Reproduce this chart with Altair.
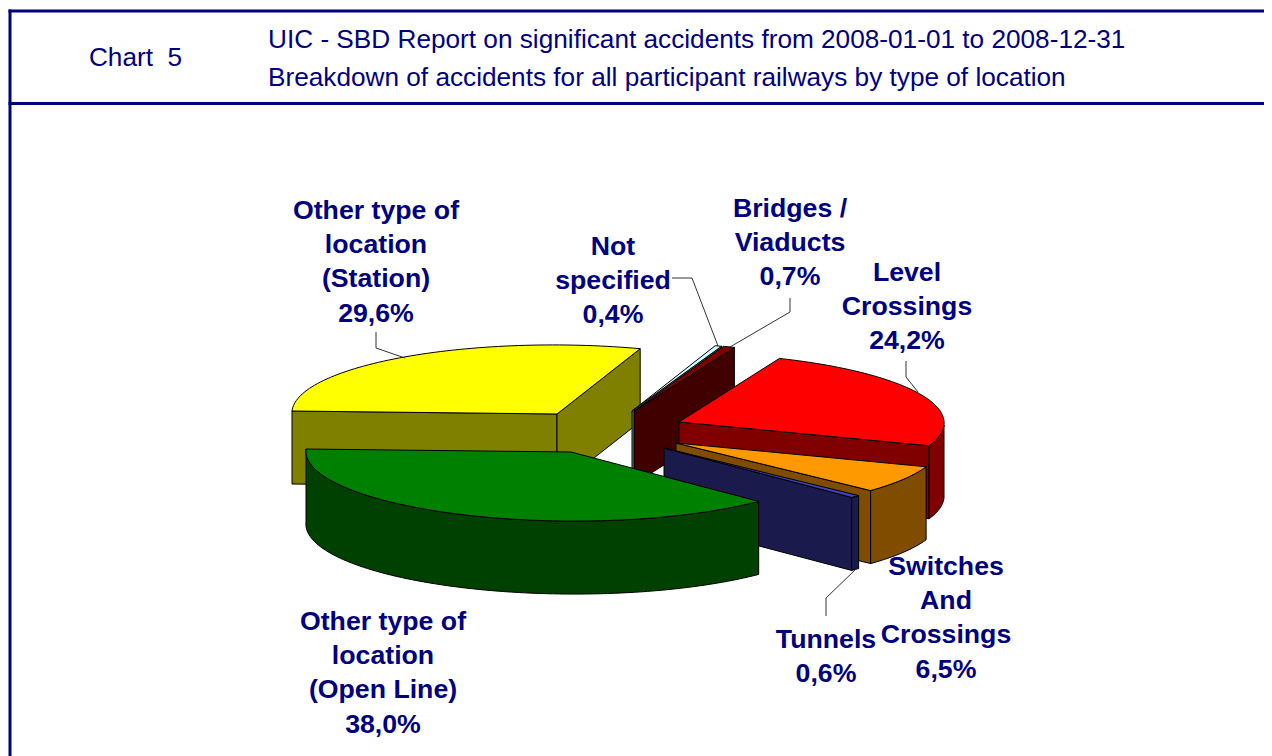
import math
import altair as alt
import pandas as pd

# ---- data ----
SLICE_NAMES = ["Station", "Not specified", "Bridges", "Level Crossings", "Switches", "Tunnels", "Open Line"]
SHARES = [29.6, 0.4, 0.7, 24.2, 6.5, 0.6, 38.0]
TOP_COLORS = ["#FFFF00", "#CCFFFF", "#800000", "#FF0000", "#FF9900", "#3F3FBF", "#008000"]
SIDE_COLORS = ["#808000", "#668080", "#400000", "#800000", "#804C00", "#1A1A4D", "#004000"]
LABEL_LINES = [
    ["Other type of", "location", "(Station)"],
    ["Not", "specified"],
    ["Bridges /", "Viaducts"],
    ["Level", "Crossings"],
    ["Switches", "And", "Crossings"],
    ["Tunnels"],
    ["Other type of", "location", "(Open Line)"],
]
TITLE_LINES = [
    "UIC - SBD Report on significant accidents from 2008-01-01 to 2008-12-31",
    "Breakdown of accidents for all participant railways by type of location",
]
CHART_NO = "Chart \u00a05"

# ---- layout of the exploded 3-D pie (page pixels) ----
APEX = [(557, 414), (632, 411), (634, 411), (679, 422), (676, 443), (664, 448), (571, 452)]
LABEL_XY = [(376, 211), (613, 247), (790, 209), (907, 273), (946, 567), (826, 640), (383, 622)]
LEADERS = [
    [(376, 332), (376, 348), (405, 358)],
    [(672, 278), (692, 278), (718, 346)],
    [(790, 298), (790, 312), (730, 347)],
    [(906, 361), (906, 377), (918, 392)],
    [(855, 570), (826, 598), (826, 616)],
]
RX, RY, SHEAR, TILT, DEPTH = 265, 69, 8, 3, 73
LINE_STEP = 34.2
NAVY = "#000080"
PAGE_RIGHT = 1264  # the page keeps an 8px margin on the right


def proj(ax, ay, deg):
    t = math.radians(deg)
    return (ax + RX * math.cos(t) + SHEAR * math.sin(t),
            ay - RY * math.sin(t) + TILT * math.cos(t))


def arc(ax, ay, a, b):
    n = max(2, int(abs(a - b) / 1.5) + 2)
    return [proj(ax, ay, a + (b - a) * i / (n - 1)) for i in range(n)]


rows = []


def add_face(pts, color):
    fid = f"f{add_face.n:03d}"
    add_face.n += 1
    for i, (x, y) in enumerate(list(pts) + [pts[0]]):
        rows.append({"x": x, "y": y, "face": fid, "i": i, "fill": color})


add_face.n = 0

start = 180.0
for share, top, side, (ax, ay) in zip(SHARES, TOP_COLORS, SIDE_COLORS, APEX):
    end = start - share * 3.6
    # radial faces that look towards the viewer
    for deg, visible in ((start, math.cos(math.radians(start)) < 0),
                         (end, math.cos(math.radians(end)) > 0)):
        if visible:
            px, py = proj(ax, ay, deg)
            add_face([(ax, ay), (px, py), (px, py + DEPTH), (ax, ay + DEPTH)], side)
    # outer wall: only the front half of the rim
    w0, w1 = min(start, 0.0), max(end, -180.0)
    if w0 > w1:
        rim = arc(ax, ay, w0, w1)
        add_face(rim + [(x, y + DEPTH) for x, y in reversed(rim)], side)
    # top
    add_face([(ax, ay)] + arc(ax, ay, start, end), top)
    start = end

faces = pd.DataFrame(rows)

leader_df = pd.DataFrame(
    [{"x": x, "y": y, "k": k, "i": i} for k, pts in enumerate(LEADERS) for i, (x, y) in enumerate(pts)]
)

label_rows = []
for lines, share, (lx, ly) in zip(LABEL_LINES, SHARES, LABEL_XY):
    text = lines + [f"{share:.1f}".replace(".", ",") + "%"]
    for j, t in enumerate(text):
        label_rows.append({"x": lx, "y": ly + j * LINE_STEP, "t": t})
labels = pd.DataFrame(label_rows)

title_df = pd.DataFrame(
    [{"x": 268, "y": 39.5, "t": TITLE_LINES[0]}, {"x": 268, "y": 77.5, "t": TITLE_LINES[1]}]
)
chart_no_df = pd.DataFrame([{"x": 135.5, "y": 58, "t": CHART_NO}])

X = alt.X("x:Q", axis=None, scale=alt.Scale(domain=[8, PAGE_RIGHT], nice=False, zero=False))
Y = alt.Y("y:Q", axis=None, scale=alt.Scale(domain=[8, 756], nice=False, zero=False, reverse=True))

pie = alt.Chart(faces).mark_line(filled=True, stroke="black", strokeWidth=1, strokeJoin="miter", clip=True).encode(
    x=X, y=Y,
    detail="face:N",
    order="i:Q",
    fill=alt.Fill("fill:N", scale=None, legend=None),
)

leaders = alt.Chart(leader_df).mark_line(color="#333333", strokeWidth=1).encode(
    x=X, y=Y, detail="k:N", order="i:Q"
)

hlines = alt.Chart(pd.DataFrame({"y": [11, 103.5], "x": [8.5, 8.5], "x2": [PAGE_RIGHT, PAGE_RIGHT]})).mark_rule(
    color=NAVY, strokeWidth=3
).encode(x=X, x2="x2:Q", y=Y)
vline = alt.Chart(pd.DataFrame({"x": [10], "y": [9.5], "y2": [756]})).mark_rule(
    color=NAVY, strokeWidth=3
).encode(x=X, y=Y, y2="y2:Q")

label_text = alt.Chart(labels).mark_text(
    font="Liberation Sans", fontWeight="bold", fontSize=26.7, color=NAVY, align="center", baseline="middle"
).encode(x=X, y=Y, text="t:N")

title_text = alt.Chart(title_df).mark_text(
    font="Liberation Sans", fontSize=26.2, color=NAVY, align="left", baseline="middle"
).encode(x=X, y=Y, text="t:N")

no_text = alt.Chart(chart_no_df).mark_text(
    font="Liberation Sans", fontSize=26.2, color=NAVY, align="center", baseline="middle"
).encode(x=X, y=Y, text="t:N")

chart = alt.layer(pie, leaders, hlines, vline, label_text, title_text, no_text).properties(
    width=PAGE_RIGHT - 8, height=748, padding=0, autosize=alt.AutoSizeParams(type="none")
).configure_view(stroke=None)

chart.save("out.html", embed_options={"renderer": "svg", "actions": False})
